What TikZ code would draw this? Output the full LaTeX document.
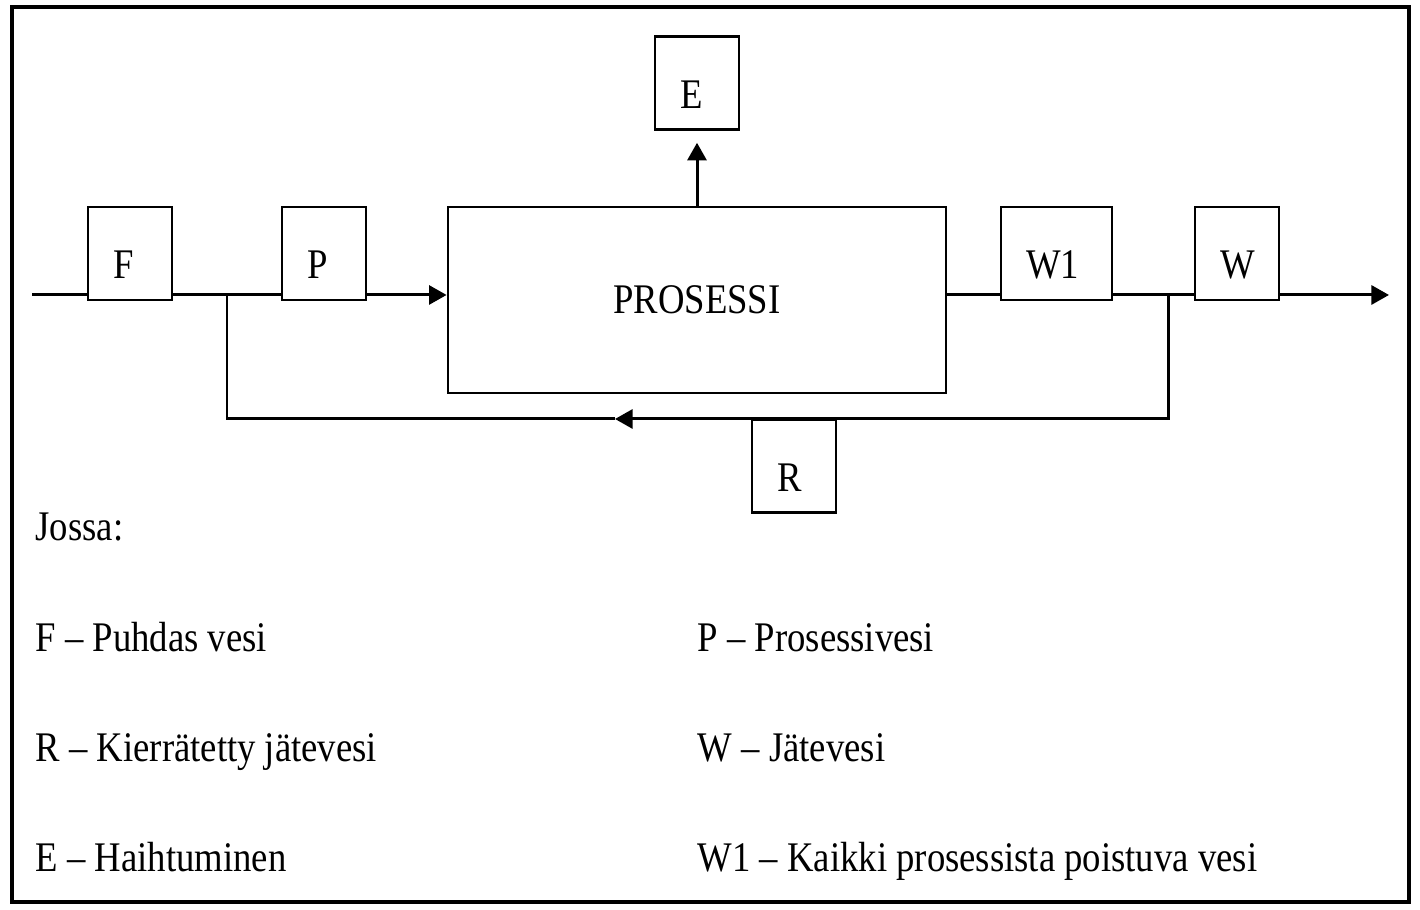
\documentclass[tikz,border=0pt]{standalone}
\usepackage{fontspec}
\setmainfont{Liberation Serif}[FakeStretch=0.87]
\usetikzlibrary{arrows.meta}
\tikzset{
  flowbox/.style={draw, line width=0.8pt, inner xsep=0.25cm, inner ysep=0pt,
    text width=0.34cm, text height=0.72cm, text depth=0.21cm, align=left},
  legend/.style={anchor=base west, inner sep=0pt},
  flow/.style={line width=0.85pt},
  tip/.style={-{Triangle[length=5pt,width=5.4pt]}}
}
\begin{document}
\begin{tikzpicture}[font=\fontsize{12}{14.4}\selectfont]
\useasboundingbox (0,0) rectangle (14.2,9.1);
\draw[line width=0.9pt] (0.12,0.08) rectangle (14.09,9.03);
\node[flowbox] (F) at (1.30,6.565) {F};
\node[flowbox] (P) at (3.24,6.565) {P};
\node[draw, line width=0.8pt, minimum width=4.98cm, minimum height=1.86cm, inner sep=0pt] (proc) at (6.97,6.10) {PROSESSI};
\node[flowbox] (E) at (6.97,8.267) {E};
\node[flowbox, text width=0.61cm] (W1) at (10.565,6.565) {W1};
\node[flowbox] (W) at (12.37,6.565) {W};
\node[flowbox] (R) at (7.94,4.44) {R};
\coordinate (in) at (0.32,6.15);
\coordinate (out) at (13.89,6.15);
\coordinate (split) at (11.68,6.15);
\coordinate (merge) at (2.27,6.15);
\coordinate (back) at (6.15,4.91);
\draw[flow] (in) -- (in -| F.west);
\draw[flow] (F.east |- in) -- (P.west |- in);
\draw[flow,tip] (P.east |- in) -- (proc.west |- in);
\draw[flow] (proc.east |- in) -- (W1.west |- in);
\draw[flow] (W1.east |- in) -- (W.west |- in);
\draw[flow,tip] (W.east |- in) -- (out);
\draw[flow,tip,shorten >=3.3pt] (proc.north) -- (E.south);
\draw[flow,tip] (split) |- (back);
\draw[flow] (back) -| (merge);
\node[legend] (jossa) at (0.35,3.69) {Jossa:};
\node[legend] (lF) at (0.35,2.58) {F – Puhdas vesi};
\node[legend] (lP) at (6.97,2.58) {P – Prosessivesi};
\node[legend] (lR) at (0.35,1.48) {R – Kierrätetty jätevesi};
\node[legend] (lW) at (6.97,1.48) {W – Jätevesi};
\node[legend] (lE) at (0.35,0.38) {E – Haihtuminen};
\node[legend] (lW1) at (6.97,0.38) {W1 – Kaikki prosessista poistuva vesi};
\end{tikzpicture}
\end{document}
